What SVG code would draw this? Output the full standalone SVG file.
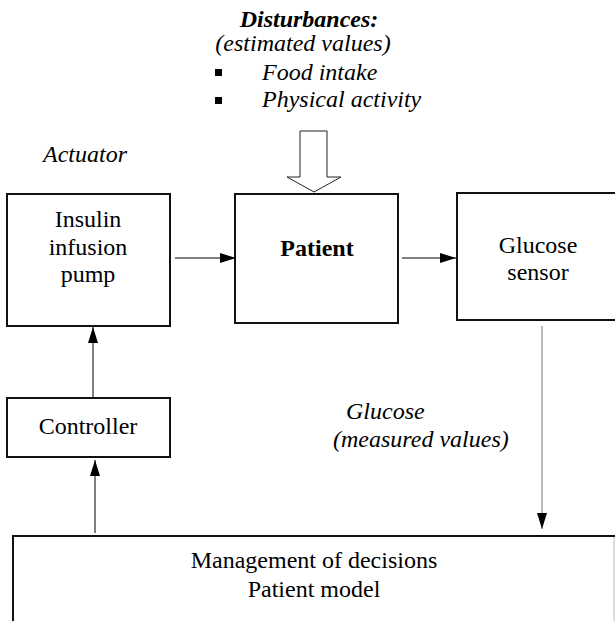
<svg xmlns="http://www.w3.org/2000/svg" width="615" height="621" viewBox="0 0 615 621">
<defs>
<style>
.box{fill:#fff;stroke:#111;stroke-width:2}
.ln{stroke:#000;stroke-width:1;fill:none}
.s{font-family:'Liberation Serif','Times New Roman',serif;font-size:24px}
</style>
<marker id="ah" viewBox="0 0 16 10" refX="16" refY="5" markerWidth="16" markerHeight="10" markerUnits="userSpaceOnUse" orient="auto">
<path d="M0,0 L16,5 L0,10 Z" fill="#000"/>
</marker>
</defs>
<rect width="615" height="621" fill="#fff"/>
<g id="disturbances">
<text class="s" x="309" y="27" text-anchor="middle" font-style="italic" font-weight="bold">Disturbances:</text>
<text class="s" x="303" y="51" text-anchor="middle" font-style="italic">(estimated values)</text>
<rect x="215" y="69" width="7" height="7" fill="#000"/>
<text class="s" x="262" y="80" font-style="italic">Food intake</text>
<rect x="215" y="97" width="7" height="7" fill="#000"/>
<text class="s" x="262" y="107" font-style="italic">Physical activity</text>
<path d="M300,131 H327 V177 H341 L314,192 L287,177 H300 Z" fill="#fff" stroke="#222" stroke-width="1"/>
</g>
<g id="actuator-label">
<text class="s" x="43" y="162" font-style="italic">Actuator</text>
</g>
<g id="insulin-pump">
<rect class="box" x="7" y="194" width="163" height="132"/>
<text class="s" x="88" y="227" text-anchor="middle">Insulin</text>
<text class="s" x="88" y="255" text-anchor="middle">infusion</text>
<text class="s" x="88" y="282" text-anchor="middle">pump</text>
</g>
<g id="patient">
<rect class="box" x="235" y="194" width="163" height="129"/>
<text class="s" x="317" y="256" text-anchor="middle" font-weight="bold">Patient</text>
</g>
<g id="glucose-sensor">
<rect class="box" x="457" y="193" width="170" height="127"/>
<text class="s" x="538" y="253" text-anchor="middle">Glucose</text>
<text class="s" x="538" y="280" text-anchor="middle">sensor</text>
</g>
<g id="controller">
<rect class="box" x="7" y="398" width="163" height="59"/>
<text class="s" x="88" y="434" text-anchor="middle">Controller</text>
</g>
<g id="management">
<rect class="box" x="13" y="536" width="610" height="100"/>
<line x1="614" y1="537" x2="614" y2="621" stroke="#bbb" stroke-width="1"/>
<text class="s" x="314" y="568" text-anchor="middle">Management of decisions</text>
<text class="s" x="314" y="597" text-anchor="middle">Patient model</text>
</g>
<g id="glucose-label">
<text class="s" x="346" y="419" font-style="italic">Glucose</text>
<text class="s" x="333" y="447" font-style="italic">(measured values)</text>
</g>
<g id="connectors">
<line class="ln" x1="175" y1="258" x2="236" y2="258" marker-end="url(#ah)"/>
<line class="ln" x1="402" y1="258" x2="456" y2="258" marker-end="url(#ah)"/>
<line class="ln" x1="93" y1="398" x2="93" y2="327" marker-end="url(#ah)"/>
<line class="ln" x1="95" y1="533" x2="95" y2="460" marker-end="url(#ah)"/>
<line x1="542" y1="326" x2="542" y2="529" stroke="#777" stroke-width="1" marker-end="url(#ah)"/>
</g>
</svg>
